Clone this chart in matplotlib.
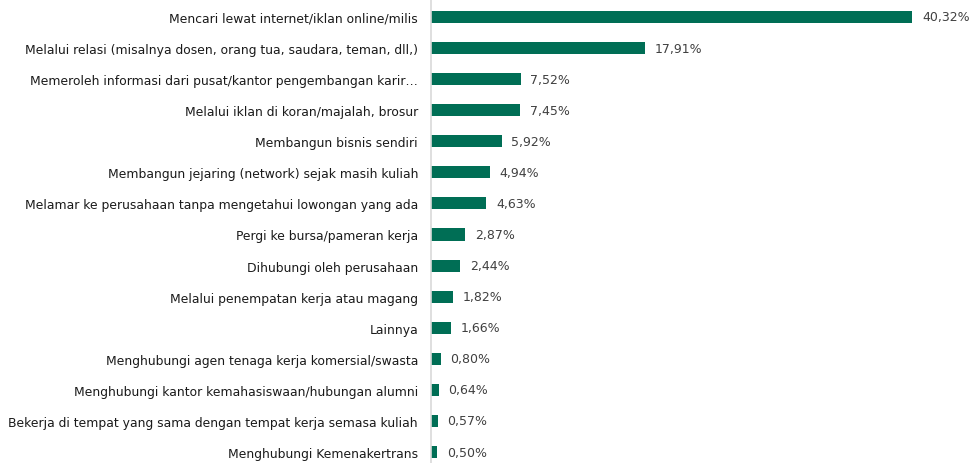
import matplotlib.pyplot as plt

categories = [
    "Mencari lewat internet/iklan online/milis",
    "Melalui relasi (misalnya dosen, orang tua, saudara, teman, dll,)",
    "Memeroleh informasi dari pusat/kantor pengembangan karir…",
    "Melalui iklan di koran/majalah, brosur",
    "Membangun bisnis sendiri",
    "Membangun jejaring (network) sejak masih kuliah",
    "Melamar ke perusahaan tanpa mengetahui lowongan yang ada",
    "Pergi ke bursa/pameran kerja",
    "Dihubungi oleh perusahaan",
    "Melalui penempatan kerja atau magang",
    "Lainnya",
    "Menghubungi agen tenaga kerja komersial/swasta",
    "Menghubungi kantor kemahasiswaan/hubungan alumni",
    "Bekerja di tempat yang sama dengan tempat kerja semasa kuliah",
    "Menghubungi Kemenakertrans",
]
values = [40.32, 17.91, 7.52, 7.45, 5.92, 4.94, 4.63, 2.87, 2.44, 1.82, 1.66, 0.80, 0.64, 0.57, 0.50]

bar_color = "#006e55"
text_color = "#404040"

fig = plt.figure(figsize=(9.8, 4.64), dpi=100)
ax = fig.add_axes([0.44, 0.0, 0.548, 1.0])

ypos = list(range(len(categories)))
ax.barh(ypos, values, height=0.39, color=bar_color)

# value labels with comma decimals
for y, v in zip(ypos, values):
    ax.text(v + 0.8, y, f"{v:.2f}%".replace(".", ","), va="center", ha="left",
            fontsize=9, color=text_color)

ax.set_yticks(ypos)
ax.set_yticklabels(categories, fontsize=8.9, color="#1a1a1a")
ax.tick_params(axis="y", length=0, pad=9.5)
ax.set_xticks([])
ax.set_xlim(0, 45)
ax.set_ylim(14.354, -0.579)

for s in ["top", "right", "bottom"]:
    ax.spines[s].set_visible(False)
ax.spines["left"].set_color("#d9d9d9")
ax.spines["left"].set_linewidth(1.2)

fig.savefig("out.png", dpi=100)
